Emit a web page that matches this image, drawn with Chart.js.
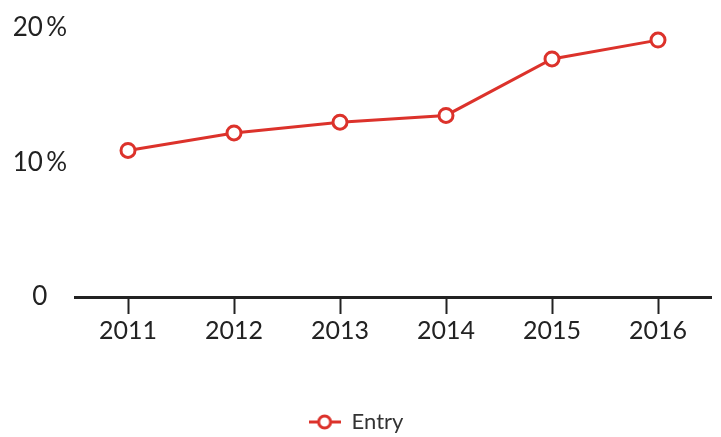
<!DOCTYPE html>
<html>
<head>
<meta charset="utf-8">
<script src="https://cdn.jsdelivr.net/npm/chart.js@4"></script>
<style>
  html, body { margin: 0; padding: 0; background: #ffffff; }
  #wrap { width: 721px; height: 437px; }
</style>
</head>
<body>
<div id="wrap"><canvas id="lineChart" width="721" height="437"></canvas></div>
<script>
// yearly entry rate, in percent
const years = ["2011", "2012", "2013", "2014", "2015", "2016"];
const entryRate = [10.9, 12.2, 13.0, 13.5, 17.7, 19.1];
const yTicks = [0, 10, 20];

const red = "#dc322b";
const ink = "#222222";
const fontFamily = "Lato, 'Open Sans', sans-serif";

// little line + ring icon for the legend
function legendIcon(){
    const c = document.createElement("canvas");
    c.width = 32;
    c.height = 18;
    const g = c.getContext("2d");
    g.strokeStyle = red;
    g.lineWidth = 3;
    g.beginPath();
    g.moveTo(0, 9);
    g.lineTo(32, 9);
    g.stroke();
    g.beginPath();
    g.arc(16, 9, 6, 0, Math.PI * 2);
    g.fillStyle = "#ffffff";
    g.fill();
    g.stroke();
    return c;
}

const icon = legendIcon();

new Chart(
document.getElementById("lineChart"),
{
    type: "line",
    data: {
        labels: years,
        datasets: [{
            label: "Entry",
            data: entryRate,
            borderColor: red,
            borderWidth: 3,
            pointRadius: 7,
            pointBorderWidth: 3,
            pointBackgroundColor: "#ffffff",
            pointBorderColor: red,
            tension: 0
        }]
    },
    options: {
        responsive: false,
        animation: false,
        layout: {
            padding: { top: 28, right: 9, left: 0, bottom: -6 }
        },
        scales: {
            x: {
                offset: true,
                afterFit: axis => { axis.height = 114; },
                border: { display: true, color: ink, width: 3 },
                grid: {
                    drawOnChartArea: false,
                    drawTicks: true,
                    tickLength: 17,
                    tickWidth: 2,
                    tickColor: ink,
                    offset: false
                },
                ticks: {
                    color: ink,
                    padding: 2,
                    font: { family: fontFamily, size: 25 },
                    maxRotation: 0
                }
            },
            y: {
                min: 0,
                max: 20,
                afterBuildTicks: axis => {
                    axis.ticks = yTicks.map(v => ({ value: v }));
                },
                afterFit: axis => { axis.width = 75; },
                border: { display: false },
                grid: { display: false },
                ticks: {
                    color: ink,
                    padding: 0,
                    crossAlign: "center",
                    font: { family: fontFamily, size: 26 },
                    callback: v => v === 0 ? "0" : v + "\u2009%"
                }
            }
        },
        plugins: {
            tooltip: { enabled: false },
            legend: {
                position: "bottom",
                labels: {
                    color: "#333333",
                    font: { family: fontFamily, size: 22 },
                    usePointStyle: true,
                    pointStyleWidth: 32,
                    boxHeight: 18,
                    padding: 0,
                    generateLabels: chart => chart.data.datasets.map((ds, i) => ({
                        text: ds.label,
                        pointStyle: icon,
                        fillStyle: "#ffffff",
                        strokeStyle: red,
                        lineWidth: 0,
                        fontColor: "#333333",
                        datasetIndex: i
                    }))
                }
            }
        }
    }
});
</script>
</body>
</html>
